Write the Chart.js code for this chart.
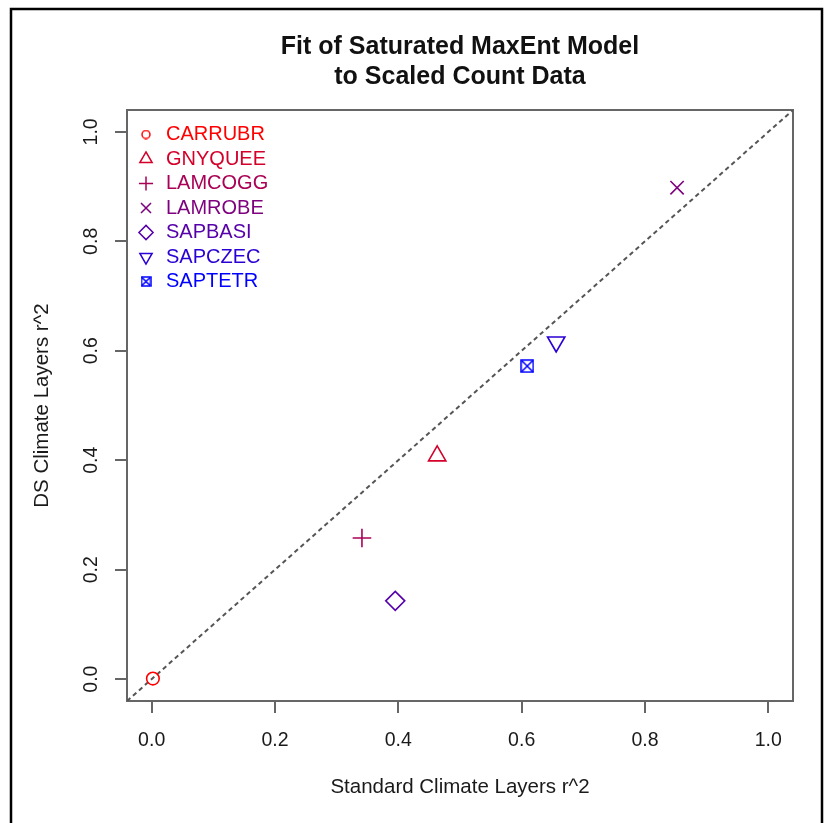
<!DOCTYPE html>
<html>
<head>
<meta charset="utf-8">
<script src="https://cdn.jsdelivr.net/npm/chart.js@4.4.0/dist/chart.umd.min.js"></script>
<style>
  html, body { margin: 0; padding: 0; background: #fff; }
  #wrap { position: relative; width: 834px; height: 823px; }
</style>
</head>
<body>
<div id="wrap"><canvas id="chart" width="834" height="823"></canvas></div>
<script>
// values
const species = ['CARRUBR', 'GNYQUEE', 'LAMCOGG', 'LAMROBE', 'SAPBASI', 'SAPCZEC', 'SAPTETR'];
const standardR2 = [0.002, 0.463, 0.341, 0.852, 0.395, 0.656, 0.609];
const dsR2 = [0.001, 0.408, 0.258, 0.898, 0.143, 0.616, 0.572];
const speciesColors = ['#FF0000', '#D4002A', '#AA0055', '#7F007F', '#5500AA', '#2A00D4', '#0000FF'];
const axisTicks = [0, 0.2, 0.4, 0.6, 0.8, 1.0];
const axisMin = -0.04;
const axisMax = 1.04;

const FONT = '"Liberation Sans", Arial, Helvetica, sans-serif';

// pch 7 (square with an x) and a smaller circle for the legend
function boxedX(size, color) {
  let c = document.createElement('canvas');
  c.width = size; c.height = size;
  let g = c.getContext('2d');
  g.strokeStyle = color;
  g.lineWidth = 1.5;
  let p = 1;
  g.strokeRect(p, p, size - 2 * p, size - 2 * p);
  g.beginPath();
  g.moveTo(p, p); g.lineTo(size - p, size - p);
  g.moveTo(size - p, p); g.lineTo(p, size - p);
  g.stroke();
  return c;
}
function ring(size, color) {
  let c = document.createElement('canvas');
  c.width = size; c.height = size;
  let g = c.getContext('2d');
  g.strokeStyle = color;
  g.lineWidth = 1.5;
  g.beginPath();
  g.arc(size / 2, size / 2, size / 2 - 1, 0, Math.PI * 2);
  g.stroke();
  return c;
}

const markerStyles = ['circle', 'triangle', 'cross', 'crossRot', 'rectRot', 'triangle', boxedX(14, speciesColors[6])];
const markerRadii = [6.3, 10, 9.3, 9.4, 9.5, 10, 7];
const markerRotation = [0, 0, 0, 0, 0, 180, 0];

const legendOverrides = { 0: ring(10, speciesColors[0]), 6: boxedX(11, speciesColors[6]) };

let datasets = species.map(function (name, i) {
  return {
    label: name,
    data: [{ x: standardR2[i], y: dsR2[i] }],
    pointStyle: markerStyles[i],
    pointRadius: markerRadii[i],
    pointHoverRadius: markerRadii[i],
    pointRotation: markerRotation[i],
    pointBorderColor: speciesColors[i],
    borderColor: speciesColors[i],
    pointBackgroundColor: 'rgba(0,0,0,0)',
    backgroundColor: 'rgba(0,0,0,0)',
    pointBorderWidth: 1.6,
  };
});

// 1:1 reference line across the axis range
datasets.push({
  type: 'line',
  label: '1:1',
  data: [{ x: axisMin, y: axisMin }, { x: axisMax, y: axisMax }],
  borderColor: '#555',
  borderWidth: 2,
  borderDash: [4.5, 3.5],
  pointRadius: 0,
  fill: false,
});

const framePlugin = {
  id: 'frame',
  beforeDraw(chart) {
    let ctx = chart.ctx;
    ctx.save();
    ctx.fillStyle = '#fff';
    ctx.fillRect(0, 0, chart.width, chart.height);
    ctx.strokeStyle = '#000';
    ctx.lineWidth = 2.5;
    ctx.beginPath();
    ctx.moveTo(11, chart.height);
    ctx.lineTo(11, 9);
    ctx.lineTo(822, 9);
    ctx.lineTo(822, chart.height);
    ctx.stroke();
    ctx.restore();
  },
  beforeDatasetsDraw(chart) {
    let a = chart.chartArea;
    let ctx = chart.ctx;
    ctx.save();
    ctx.strokeStyle = '#666';
    ctx.lineWidth = 2;
    ctx.strokeRect(a.left, a.top, a.right - a.left, a.bottom - a.top);
    ctx.restore();
  },
};

// legend sits inside the plot box, put it in the top-left corner spot
const legendNudge = {
  id: 'legendNudge',
  afterLayout(chart) {
    let lg = chart.legend;
    if (lg) {
      let h = lg.height;
      lg.left = chart.chartArea.left + 4.5;
      lg.top = chart.chartArea.top + 10;
      lg.bottom = lg.top + h;
    }
  },
};

function tickSetup(scale) {
  scale.ticks = axisTicks.map(function (v) { return { value: v }; });
}

new Chart(document.getElementById('chart'), {
  type: 'scatter',
  data: { datasets: datasets },
  plugins: [framePlugin, legendNudge],
  options: {
    responsive: false,
    animation: false,
    events: [],
    layout: { padding: { left: 0, top: 0, right: 41, bottom: 0 } },
    scales: {
      x: {
        type: 'linear',
        min: axisMin,
        max: axisMax,
        afterBuildTicks: tickSetup,
        afterFit: function (s) { s.height = 122; },
        grid: { drawOnChartArea: false, drawTicks: true, tickLength: 12, color: '#666', lineWidth: 2 },
        border: { display: false },
        ticks: {
          font: { family: FONT, size: 19.5 },
          color: '#1a1a1a',
          padding: 16,
          minRotation: 0,
          maxRotation: 0,
          callback: function (v) { return v.toFixed(1); },
        },
        title: {
          display: true,
          text: 'Standard Climate Layers r^2',
          font: { family: FONT, size: 20.5 },
          color: '#1a1a1a',
          padding: { top: 0, bottom: 23 },
        },
      },
      y: {
        type: 'linear',
        min: axisMin,
        max: axisMax,
        afterBuildTicks: tickSetup,
        afterFit: function (s) { s.width = 127; },
        grid: { drawOnChartArea: false, drawTicks: true, tickLength: 12, color: '#666', lineWidth: 2 },
        border: { display: false },
        ticks: {
          font: { family: FONT, size: 19.5 },
          color: '#1a1a1a',
          padding: 9.5,
          minRotation: 90,
          maxRotation: 90,
          crossAlign: 'center',
          callback: function (v) { return v.toFixed(1); },
        },
        title: {
          display: true,
          text: 'DS Climate Layers r^2',
          font: { family: FONT, size: 20.5 },
          color: '#1a1a1a',
          padding: { top: 30, bottom: 0 },
        },
      },
    },
    plugins: {
      title: {
        display: true,
        fullSize: false,
        text: ['Fit of Saturated MaxEnt Model', 'to Scaled Count Data'],
        font: { family: FONT, size: 25, weight: 'bold', lineHeight: '30px' },
        color: '#111',
        padding: { top: 32, bottom: 18 },
      },
      legend: {
        position: 'chartArea',
        align: 'start',
        labels: {
          usePointStyle: true,
          boxWidth: 20,
          boxHeight: 10,
          padding: 4.5,
          font: { family: FONT, size: 20 },
          filter: function (item) { return item.datasetIndex < species.length; },
          generateLabels: function (chart) {
            let items = Chart.defaults.plugins.legend.labels.generateLabels(chart);
            items.forEach(function (item) {
              let i = item.datasetIndex;
              if (i < species.length) {
                item.fontColor = speciesColors[i];
                item.strokeStyle = speciesColors[i];
                item.fillStyle = 'rgba(0,0,0,0)';
                item.lineWidth = 1.5;
                if (legendOverrides[i]) item.pointStyle = legendOverrides[i];
              }
            });
            return items;
          },
        },
      },
      tooltip: { enabled: false },
    },
  },
});
</script>
</body>
</html>
